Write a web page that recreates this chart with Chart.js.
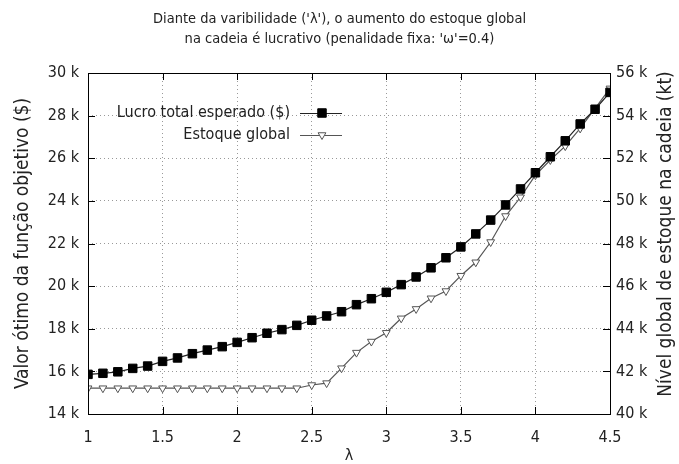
<!DOCTYPE html>
<html>
<head>
<meta charset="utf-8">
<script src="https://cdn.jsdelivr.net/npm/chart.js@4.4.0/dist/chart.umd.min.js"></script>
<style>
  body { margin: 0; background: #fff; }
  #wrap { width: 679px; height: 464px; }
</style>
</head>
<body>
<div id="wrap"><canvas id="myChart"></canvas></div>
<script>
// dados
const lambdas = [1.0, 1.1, 1.2, 1.3, 1.4, 1.5, 1.6, 1.7, 1.8, 1.9,
                 2.0, 2.1, 2.2, 2.3, 2.4, 2.5, 2.6, 2.7, 2.8, 2.9,
                 3.0, 3.1, 3.2, 3.3, 3.4, 3.5, 3.6, 3.7, 3.8, 3.9,
                 4.0, 4.1, 4.2, 4.3, 4.4, 4.5];
const lucro = [15860, 15910, 15980, 16140, 16250, 16470, 16630, 16830, 17000, 17160,
               17360, 17580, 17790, 17960, 18160, 18400, 18600, 18800, 19130, 19410,
               19710, 20070, 20430, 20860, 21330, 21840, 22450, 23100, 23810, 24560,
               25320, 26070, 26820, 27610, 28300, 29090];
const estoque = [41210, 41210, 41210, 41210, 41210, 41210, 41210, 41210, 41210, 41210,
                 41210, 41210, 41210, 41210, 41210, 41360, 41450, 42150, 42880, 43400,
                 43810, 44490, 44930, 45430, 45770, 46490, 47120, 48070, 49290, 50170,
                 51210, 51920, 52570, 53400, 54340, 55280];
const xTicks = [1, 1.5, 2, 2.5, 3, 3.5, 4, 4.5];
const yTicks = [14000, 16000, 18000, 20000, 22000, 24000, 26000, 28000, 30000];
const y2Ticks = [40000, 42000, 44000, 46000, 48000, 50000, 52000, 54000, 56000];
const y2Title = 'Nível global de estoque na cadeia (kt)';

const FONT = '"DejaVu Sans Condensed", "DejaVu Sans", sans-serif';
const kFmt = v => (v / 1000) + ' k';

// bordas, ticks para dentro, titulo do eixo y2 e legenda no estilo gnuplot
const gnuplotLook = {
    id: 'gnuplotLook',
    afterDatasetsDraw(chart) {
        const ctx = chart.ctx;
        const a = chart.chartArea;
        const sx = chart.scales.x, sy = chart.scales.y, sy2 = chart.scales.y2;
        const tl = 7;
        ctx.save();
        ctx.strokeStyle = '#000';
        ctx.lineWidth = 1;
        ctx.beginPath();
        xTicks.forEach(t => {
            const px = Math.round(sx.getPixelForValue(t)) + 0.5;
            ctx.moveTo(px, a.bottom); ctx.lineTo(px, a.bottom - tl);
            ctx.moveTo(px, a.top); ctx.lineTo(px, a.top + tl);
        });
        yTicks.forEach(t => {
            const py = Math.round(sy.getPixelForValue(t)) + 0.5;
            ctx.moveTo(a.left, py); ctx.lineTo(a.left + tl, py);
        });
        y2Ticks.forEach(t => {
            const py = Math.round(sy2.getPixelForValue(t)) + 0.5;
            ctx.moveTo(a.right, py); ctx.lineTo(a.right - tl, py);
        });
        ctx.stroke();
        ctx.strokeRect(Math.round(a.left) + 0.5, Math.round(a.top) + 0.5,
                       Math.round(a.right - a.left), Math.round(a.bottom - a.top));

        // titulo do eixo direito, lido de baixo para cima como no gnuplot
        ctx.save();
        ctx.translate(666, 234);
        ctx.rotate(-Math.PI / 2);
        ctx.font = '19px ' + FONT;
        ctx.fillStyle = '#222';
        ctx.textAlign = 'center';
        ctx.textBaseline = 'middle';
        ctx.fillText(y2Title, 0, 0);
        ctx.restore();

        // legenda
        const items = [
            { label: 'Lucro total esperado ($)', ds: 0, y: 113 },
            { label: 'Estoque global', ds: 1, y: 135 }
        ];
        ctx.font = '16px ' + FONT;
        ctx.textAlign = 'right';
        ctx.textBaseline = 'middle';
        items.forEach(it => {
            const d = chart.data.datasets[it.ds];
            ctx.fillStyle = '#222';
            ctx.fillText(it.label, 290, it.y);
            ctx.strokeStyle = d.borderColor;
            ctx.lineWidth = 1.2;
            ctx.beginPath();
            ctx.moveTo(300, it.y + 0.5); ctx.lineTo(342, it.y + 0.5);
            ctx.stroke();
            ctx.lineWidth = 1;
            ctx.fillStyle = d.pointBackgroundColor;
            ctx.strokeStyle = d.pointBorderColor;
            Chart.helpers.drawPoint(ctx, {
                pointStyle: d.pointStyle,
                rotation: d.pointRotation || 0,
                radius: d.pointRadius,
                borderWidth: 1
            }, 322, it.y);
        });
        ctx.restore();
    }
};

const ctx = document.getElementById('myChart').getContext('2d');
const myChart = new Chart(ctx, {
    type: 'line',
    data: {
        datasets: [{
            label: 'Lucro total esperado ($)',
            data: lambdas.map((l, i) => ({ x: l, y: lucro[i] })),
            yAxisID: 'y',
            borderColor: '#222',
            borderWidth: 1.2,
            pointStyle: 'rect',
            pointRadius: 6,
            pointBackgroundColor: '#000',
            pointBorderColor: '#000',
            pointBorderWidth: 1,
            tension: 0
        }, {
            label: 'Estoque global',
            data: lambdas.map((l, i) => ({ x: l, y: estoque[i] })),
            yAxisID: 'y2',
            borderColor: '#555',
            borderWidth: 1.2,
            pointStyle: 'triangle',
            pointRotation: 180,
            pointRadius: 4.5,
            pointBackgroundColor: '#fff',
            pointBorderColor: '#555',
            pointBorderWidth: 1,
            tension: 0
        }]
    },
    options: {
        responsive: true,
        maintainAspectRatio: false,
        animation: false,
        layout: { padding: 0 },
        plugins: {
            legend: { display: false },
            tooltip: { enabled: false },
            title: {
                display: true,
                text: ["Diante da varibilidade ('λ'), o aumento do estoque global",
                       "na cadeia é lucrativo (penalidade fixa: 'ω'=0.4)"],
                color: '#222',
                font: { family: FONT, size: 14.5, weight: 'normal', lineHeight: 1.38 },
                padding: { top: 9, bottom: 24 }
            }
        },
        scales: {
            x: {
                type: 'linear',
                min: 1, max: 4.5,
                afterBuildTicks: s => { s.ticks = xTicks.map(v => ({ value: v })); },
                afterFit: s => { s.height = 50; },
                grid: { color: '#999', drawTicks: false },
                border: { display: false, dash: [1, 3] },
                ticks: { color: '#222', padding: 14, font: { family: FONT, size: 16 },
                         callback: v => String(v) },
                title: { display: true, text: 'λ', color: '#222', padding: 0,
                         font: { family: FONT, size: 16, lineHeight: 1.0 } }
            },
            y: {
                position: 'left',
                min: 14000, max: 30000,
                afterBuildTicks: s => { s.ticks = yTicks.map(v => ({ value: v })); },
                afterFit: s => { s.width = 88; },
                grid: { color: '#999', drawTicks: false },
                border: { display: false, dash: [1, 3] },
                ticks: { color: '#222', padding: 9, font: { family: FONT, size: 16 }, callback: kFmt },
                title: { display: true, text: 'Valor ótimo da função objetivo ($)', color: '#222',
                         padding: { top: 12 }, font: { family: FONT, size: 19 } }
            },
            y2: {
                position: 'right',
                min: 40000, max: 56000,
                afterBuildTicks: s => { s.ticks = y2Ticks.map(v => ({ value: v })); },
                afterFit: s => { s.width = 69; },
                grid: { display: false, drawTicks: false },
                border: { display: false },
                ticks: { color: '#222', padding: 6, font: { family: FONT, size: 16 }, callback: kFmt }
            }
        }
    },
    plugins: [gnuplotLook]
});
</script>
</body>
</html>
